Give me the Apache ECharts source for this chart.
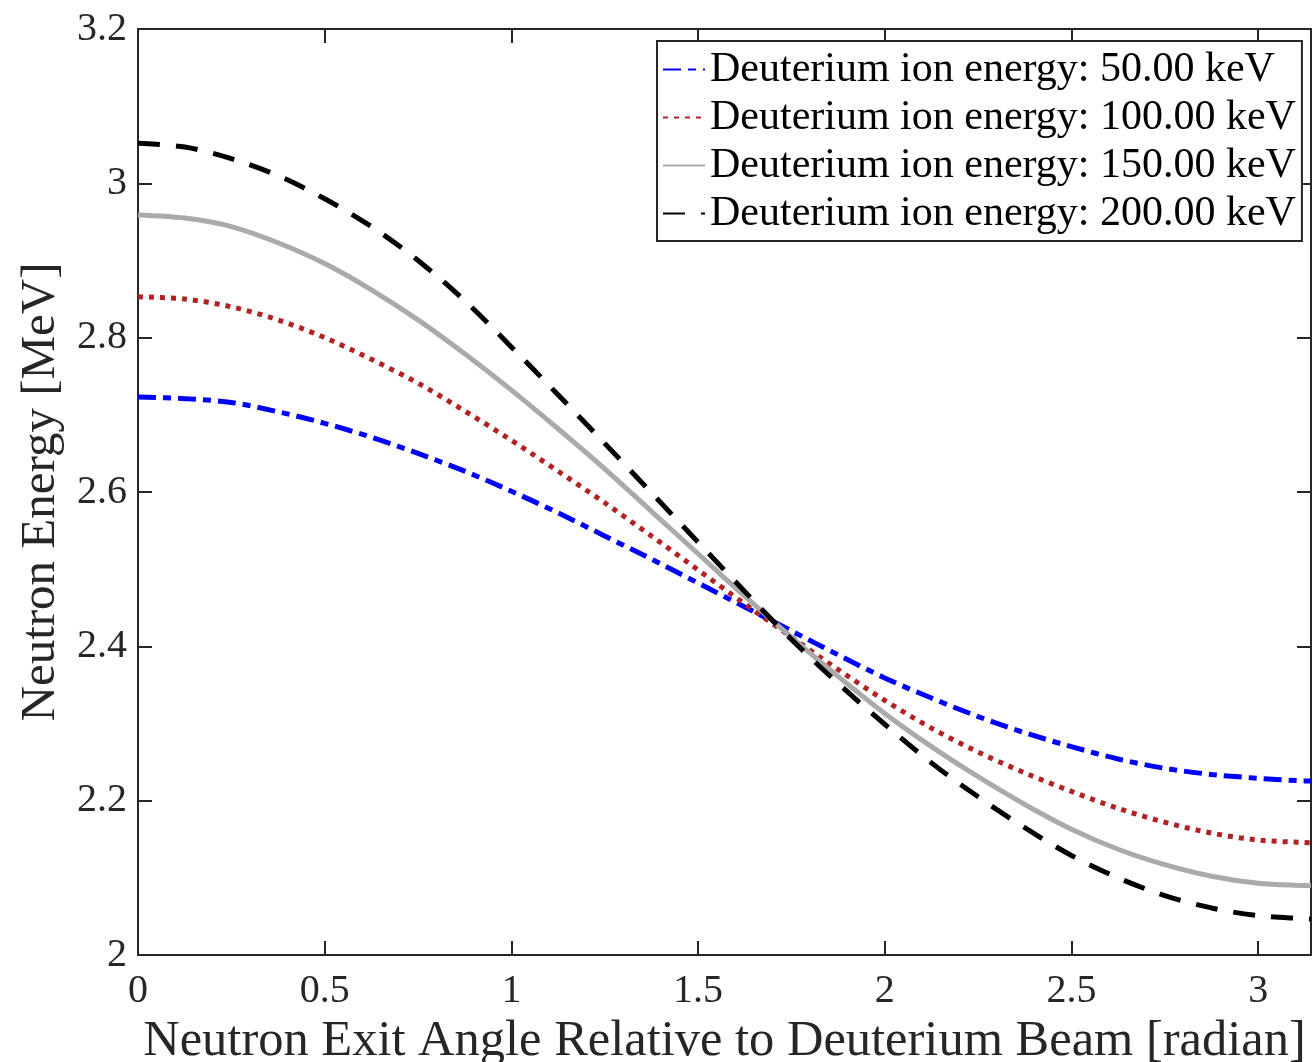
<!DOCTYPE html>
<html>
<head>
<meta charset="utf-8">
<script src="https://cdn.jsdelivr.net/npm/echarts@6/dist/echarts.min.js"></script>
<style>
  html, body { margin: 0; padding: 0; background: #fff; }
  #chart { width: 1313px; height: 1062px; }
</style>
</head>
<body>
<div id="chart"></div>
<script>
// Neutron exit angle [radian]
const angles = [0, 0.125, 0.25, 0.375, 0.5, 0.625, 0.75, 0.875, 1.0, 1.125, 1.25, 1.375, 1.5, 1.625,
                1.75, 1.875, 2.0, 2.125, 2.25, 2.375, 2.5, 2.625, 2.75, 2.875, 3.0, 3.125, 3.14159];
// Neutron energy [MeV] per deuterium ion energy
const e50  = [2.723, 2.721, 2.716, 2.704, 2.689, 2.671, 2.650, 2.627, 2.601, 2.573, 2.543, 2.513, 2.482, 2.451,
              2.420, 2.389, 2.359, 2.333, 2.309, 2.288, 2.270, 2.254, 2.242, 2.234, 2.229, 2.2256, 2.2255];
const e100 = [2.853, 2.850, 2.840, 2.823, 2.800, 2.772, 2.741, 2.705, 2.667, 2.627, 2.586, 2.543, 2.499, 2.455,
              2.412, 2.370, 2.330, 2.294, 2.263, 2.236, 2.212, 2.190, 2.172, 2.158, 2.149, 2.1457, 2.1455];
const e150 = [2.959, 2.955, 2.944, 2.923, 2.896, 2.862, 2.823, 2.779, 2.732, 2.682, 2.630, 2.575, 2.520, 2.465,
              2.412, 2.361, 2.313, 2.270, 2.231, 2.195, 2.163, 2.137, 2.117, 2.102, 2.093, 2.0900, 2.0898];
const e200 = [3.052, 3.047, 3.032, 3.010, 2.980, 2.944, 2.900, 2.848, 2.788, 2.726, 2.663, 2.599, 2.535, 2.471,
              2.409, 2.352, 2.299, 2.249, 2.205, 2.165, 2.129, 2.100, 2.077, 2.061, 2.051, 2.0470, 2.0466];
const seriesNames = [
  'Deuterium ion energy: 50.00 keV',
  'Deuterium ion energy: 100.00 keV',
  'Deuterium ion energy: 150.00 keV',
  'Deuterium ion energy: 200.00 keV'
];
const xTicks = [0, 0.5, 1, 1.5, 2, 2.5, 3];
const yTicks = [2, 2.2, 2.4, 2.6, 2.8, 3, 3.2];

const FONT = 'Liberation Serif';
const AX = '#262626';
const SMOOTH = 0.33;

function pairs(ys) { return angles.map((a, i) => [a, ys[i]]); }

const chart = echarts.init(document.getElementById('chart'), null, { renderer: 'canvas' });

const axisCommon = {
  axisLine: { show: true, onZero: false, lineStyle: { color: AX, width: 2 } },
  axisTick: { show: true, inside: true, length: 14, lineStyle: { color: AX, width: 2 } },
  splitLine: { show: false }
};

const option = {
  animation: false,
  backgroundColor: '#fff',
  grid: { left: 138, top: 29, right: 2, bottom: 107, containLabel: false, outerBoundsMode: 'none' },
  xAxis: [
    Object.assign({
      type: 'value', position: 'bottom', min: 0, max: 3.14159, interval: 0.5,
      name: 'Neutron Exit Angle Relative to Deuterium Beam [radian]',
      nameLocation: 'middle', nameGap: 60,
      nameTextStyle: { fontFamily: FONT, fontSize: 50.5, color: AX },
      axisLabel: {
        fontFamily: FONT, fontSize: 40, color: AX, margin: 16, showMaxLabel: false,
        formatter: v => (xTicks.indexOf(Math.round(v * 100) / 100) >= 0 ? String(Math.round(v * 100) / 100) : '')
      }
    }, axisCommon),
    Object.assign({
      type: 'value', position: 'top', min: 0, max: 3.14159, interval: 0.5,
      axisLabel: { show: false }
    }, axisCommon)
  ],
  yAxis: [
    Object.assign({
      type: 'value', position: 'left', min: 2, max: 3.2, interval: 0.2,
      name: 'Neutron Energy [MeV]',
      nameLocation: 'middle', nameGap: 72,
      nameTextStyle: { fontFamily: FONT, fontSize: 49, color: AX },
      axisLabel: {
        fontFamily: FONT, fontSize: 40, color: AX, margin: 11,
        formatter: v => { const r = Math.round(v * 10) / 10; return yTicks.indexOf(r) >= 0 ? String(r) : ''; }
      }
    }, axisCommon),
    Object.assign({
      type: 'value', position: 'right', min: 2, max: 3.2, interval: 0.2,
      axisLabel: { show: false }
    }, axisCommon)
  ],
  legend: {
    orient: 'vertical', left: 657, top: 41,
    backgroundColor: '#fff', borderColor: AX, borderWidth: 2,
    padding: [7, 6, 6, 5], itemGap: 5, itemWidth: 42, itemHeight: 16,
    itemStyle: { opacity: 0 },
    textStyle: { fontFamily: FONT, fontSize: 42, color: '#000', lineHeight: 43 },
    data: seriesNames
  },
  series: [
    {
      name: seriesNames[0], type: 'line', data: pairs(e50), symbol: 'none', smooth: SMOOTH,
      lineStyle: { color: '#0000ff', width: 5, type: [18, 7, 8, 7], cap: 'butt' },
      itemStyle: { color: '#0000ff' }
    },
    {
      name: seriesNames[1], type: 'line', data: pairs(e100), symbol: 'none', smooth: SMOOTH,
      lineStyle: { color: '#b22222', width: 5, type: [5, 6], cap: 'butt' },
      itemStyle: { color: '#b22222' }
    },
    {
      name: seriesNames[2], type: 'line', data: pairs(e150), symbol: 'none', smooth: SMOOTH,
      lineStyle: { color: '#aaaaaa', width: 5, type: 'solid' },
      itemStyle: { color: '#aaaaaa' }
    },
    {
      name: seriesNames[3], type: 'line', data: pairs(e200), symbol: 'none', smooth: SMOOTH,
      lineStyle: { color: '#000000', width: 5, type: [22, 16], cap: 'butt' },
      itemStyle: { color: '#000000' }
    }
  ]
};
chart.setOption(option);
</script>
</body>
</html>
